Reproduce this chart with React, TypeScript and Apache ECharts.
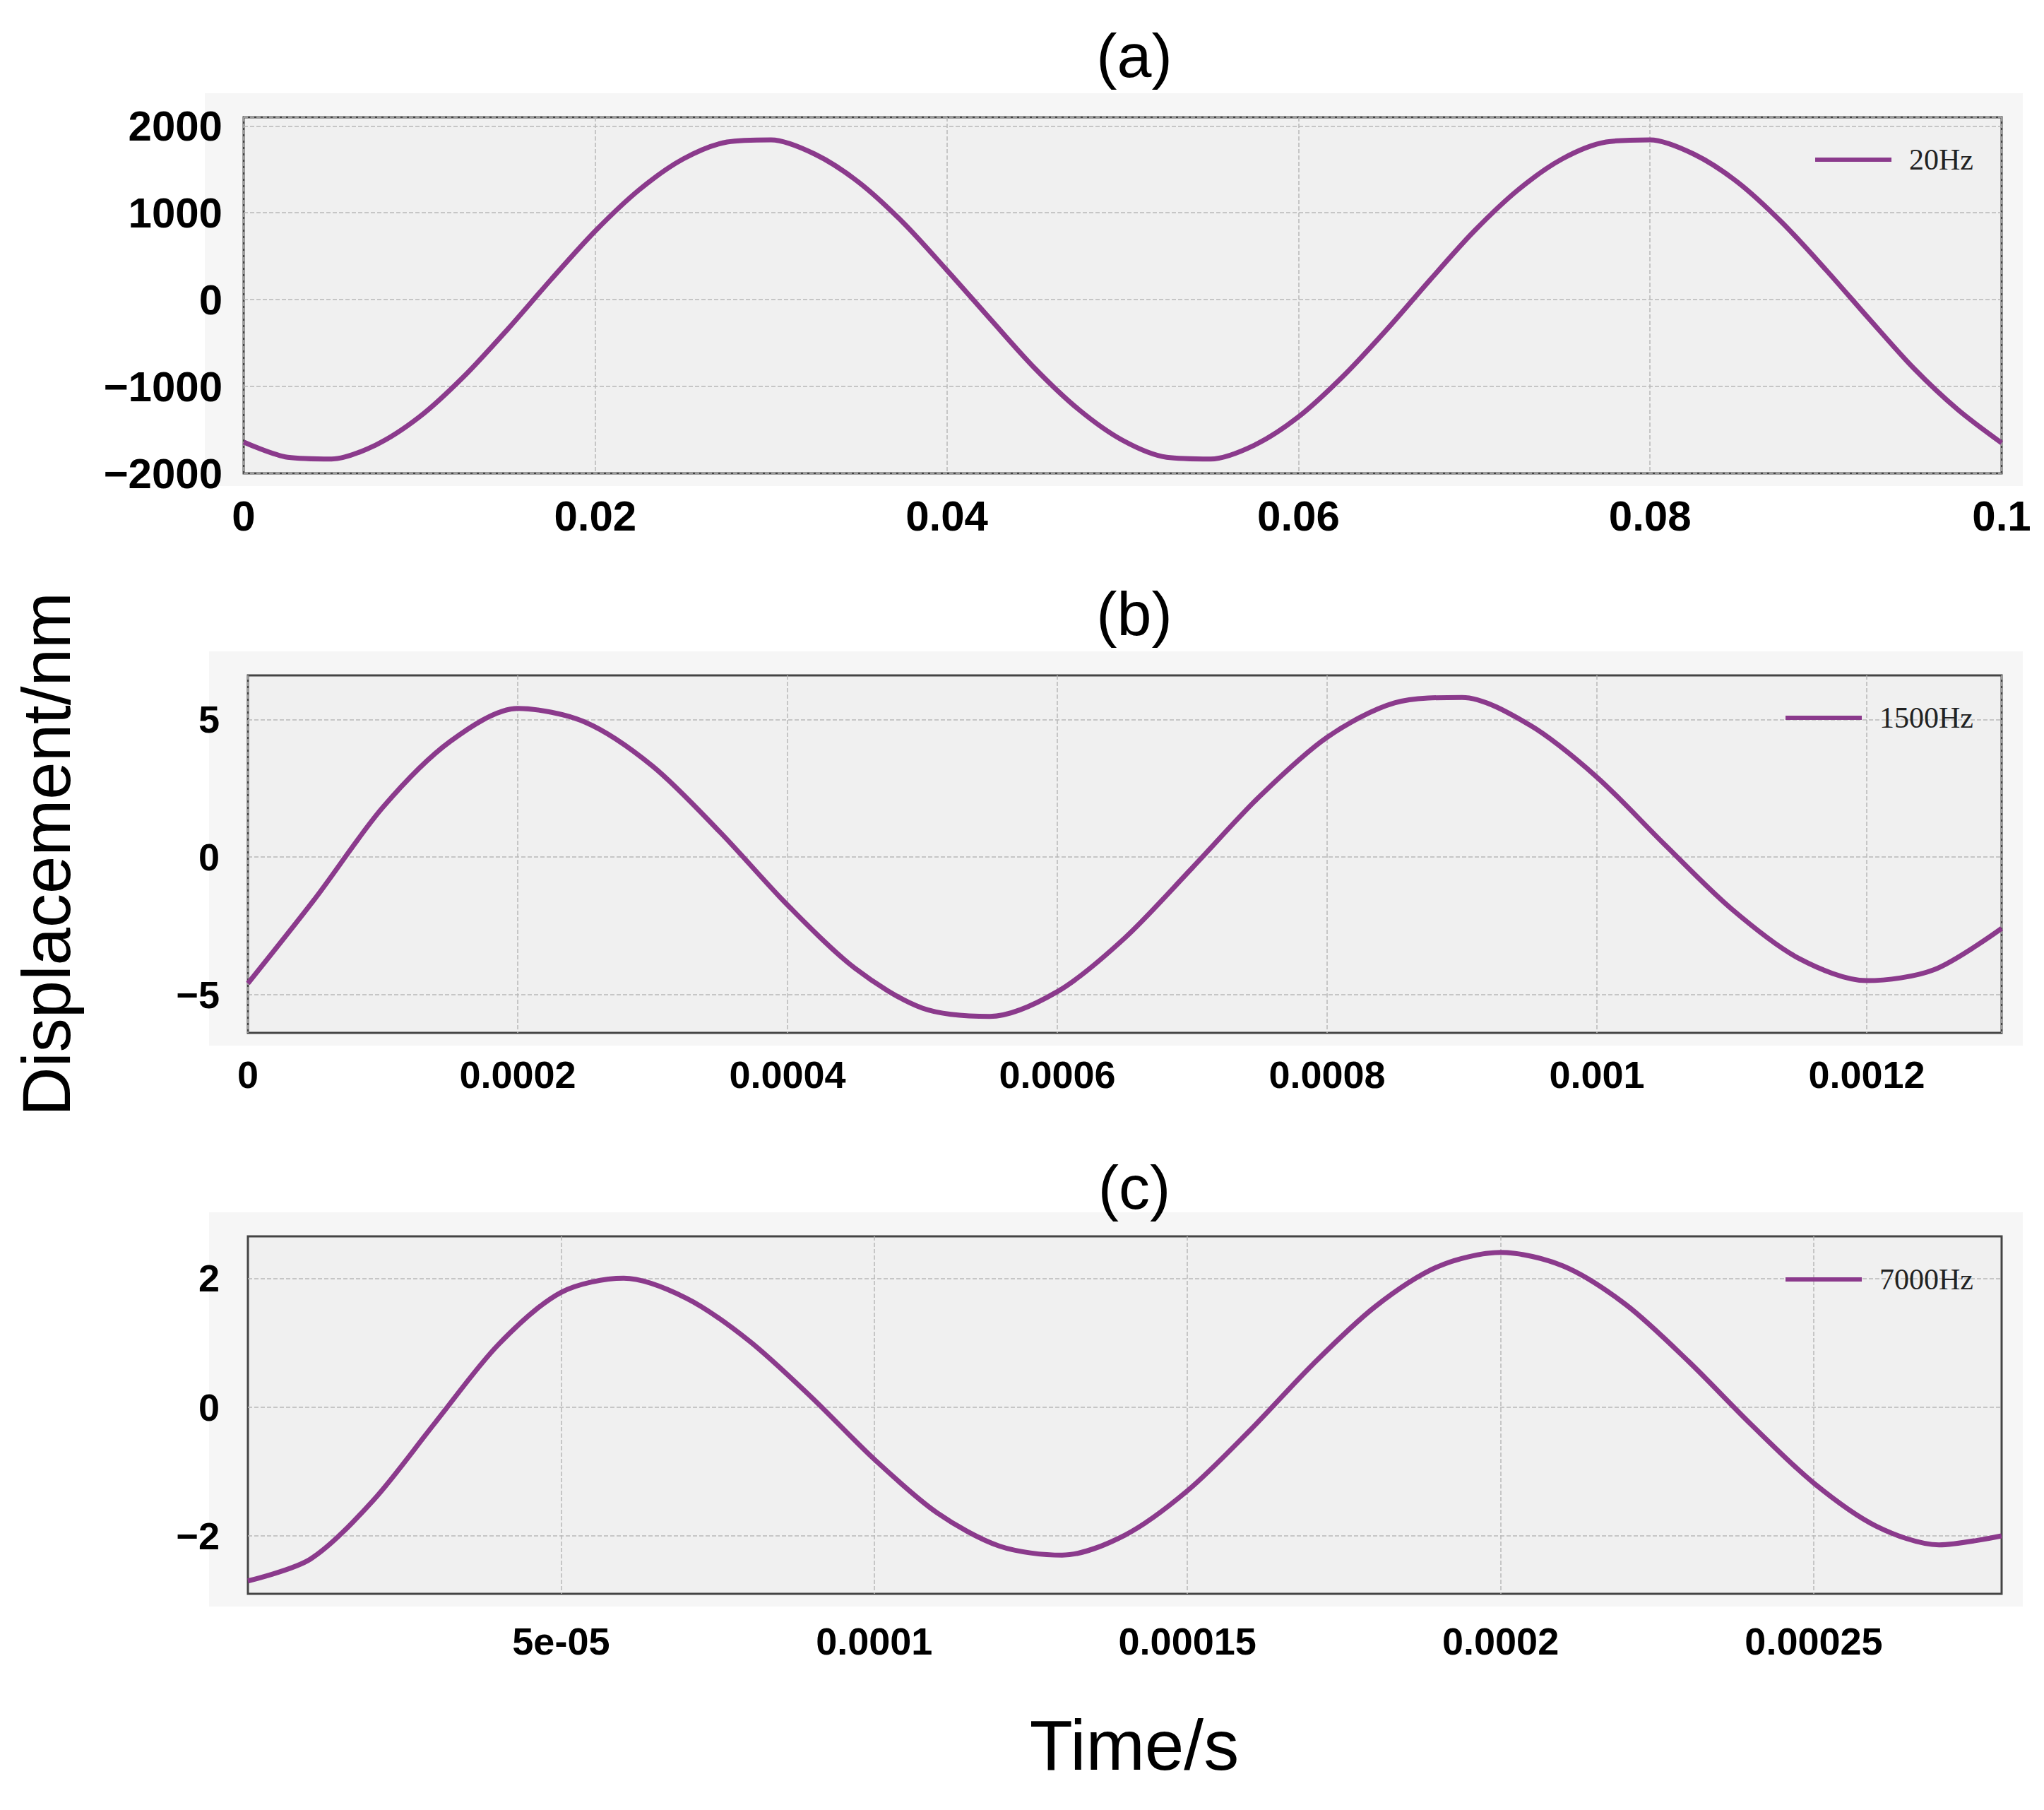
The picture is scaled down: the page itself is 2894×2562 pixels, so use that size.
import React, { useRef, useEffect } from 'react';
import * as echarts from 'echarts';

// (a) 20Hz
const timeA = [0, 0.0025, 0.005, 0.0075, 0.01, 0.0125, 0.015, 0.0175, 0.02, 0.0225, 0.025, 0.0275, 0.03, 0.0325, 0.035, 0.0375, 0.04, 0.0425, 0.045, 0.0475,
  0.05, 0.0525, 0.055, 0.0575, 0.06, 0.0625, 0.065, 0.0675, 0.07, 0.0725, 0.075, 0.0775, 0.08, 0.0825, 0.085, 0.0875, 0.09, 0.0925, 0.095, 0.0975, 0.1];
const dispA = [-1640, -1815, -1835, -1675, -1350, -890, -345, 235, 790, 1265, 1620, 1815, 1840, 1675, 1350, 890, 340, -230, -790, -1265,
  -1620, -1815, -1835, -1675, -1350, -890, -350, 230, 790, 1265, 1620, 1815, 1840, 1675, 1350, 890, 345, -230, -790, -1265, -1650];

// (b) 1500Hz
const timeB = [0, 0.00005, 0.0001, 0.00015, 0.0002, 0.00025, 0.0003, 0.00035, 0.0004, 0.00045, 0.0005, 0.00055, 0.0006, 0.00065, 0.0007, 0.00075, 0.0008, 0.00085, 0.0009, 0.00095, 0.001, 0.00105, 0.0011, 0.00115, 0.0012, 0.00125, 0.0013];
const dispB = [-4.6, -1.5, 1.8, 4.2, 5.4, 4.9, 3.3, 0.9, -1.75, -4.05, -5.5, -5.8, -4.9, -2.95, -0.4, 2.2, 4.35, 5.6, 5.8, 4.8, 2.9, 0.46, -1.9, -3.7, -4.5, -4.1, -2.6];

// (c) 7000Hz
const timeC = [0, 1e-5, 2e-5, 3e-5, 4e-5, 5e-5, 6e-5, 7e-5, 8e-5, 9e-5, 1e-4, 1.1e-4, 1.2e-4, 1.3e-4, 1.4e-4, 1.5e-4, 1.6e-4, 1.7e-4, 1.8e-4, 1.9e-4, 2e-4, 2.1e-4, 2.2e-4, 2.3e-4, 2.4e-4, 2.5e-4, 2.6e-4, 2.7e-4, 2.8e-4];
const dispC = [-2.7, -2.36, -1.45, -0.23, 0.97, 1.78, 2.0, 1.69, 1.03, 0.15, -0.81, -1.64, -2.16, -2.3, -1.99, -1.3, -0.36, 0.66, 1.56, 2.18, 2.4, 2.19, 1.59, 0.71, -0.27, -1.18, -1.85, -2.14, -2.0];

const panelTitles = ['(a)', '(b)', '(c)'];
const legendNames = ['20Hz', '1500Hz', '7000Hz'];
const yTicksB = [-5, 0, 5];
const yTicksC = [-2, 0, 2];
const xTicksC = [5e-5, 1e-4, 1.5e-4, 2e-4, 2.5e-4];

const LINE = '#8b3a8c';
const FONT = 'Liberation Sans, Arial, sans-serif';

const grids = [
  { left: 345, right: 60, top: 166, height: 504 },
  { left: 351, right: 60, top: 956, height: 506 },
  { left: 351, right: 60, top: 1750, height: 506 },
];

const App: React.FC = () => {
  const ref = useRef<HTMLDivElement>(null);

  useEffect(() => {
    document.body.style.margin = '0';
    if (!ref.current) return;
    const chart = echarts.init(ref.current, null, { renderer: 'svg' });

    const split = { show: true, lineStyle: { color: '#b8b8b8', type: 'dashed', width: 1.5 } };
    const frame = { show: false };
    const label = (size: number) => ({ color: '#000', fontFamily: FONT, fontWeight: 'bold', fontSize: size });
    const neg = (v: number) => (v < 0 ? '\u2212' + -v : String(v));

    const fmtC = (v: number) => {
      const m: Record<string, string> = { '0.00005': '5e-05', '0.0001': '0.0001', '0.00015': '0.00015', '0.0002': '0.0002', '0.00025': '0.00025' };
      return m[String(+v.toFixed(6))] ?? '';
    };

    const option = {
      animation: false,
      backgroundColor: '#fff',
      graphic: [
        ...grids.map(g => ({
          type: 'rect', z: -10,
          shape: { x: g.left - 55, y: g.top - 34, width: 2894 - g.left - g.right + 85, height: g.height + 52 },
          style: { fill: '#f6f6f6' },
        })),
        ...panelTitles.map((t, i) => ({
          type: 'text', x: 1606, y: [78, 868, 1680][i],
          style: { text: t, fontSize: 88, fontFamily: FONT, fill: '#000', align: 'center', verticalAlign: 'middle' },
        })),
        {
          type: 'text', x: 65, y: 1209, rotation: Math.PI / 2,
          style: { text: 'Displacement/nm', fontSize: 96, fontFamily: FONT, fill: '#000', align: 'center', verticalAlign: 'middle' },
        },
        {
          type: 'text', x: 1606, y: 2470,
          style: { text: 'Time/s', fontSize: 100, fontFamily: FONT, fill: '#000', align: 'center', verticalAlign: 'middle' },
        },
      ],
      grid: grids.map(g => ({ ...g, show: true, backgroundColor: '#f0f0f0', borderColor: '#444', borderWidth: 3 })),
      legend: legendNames.map((n, i) => ({
        data: [n], right: 95, top: [200, 990, 1785][i], orient: 'vertical',
        icon: 'rect', itemWidth: 108, itemHeight: 6, itemGap: 10,
        textStyle: { fontFamily: 'Liberation Serif, serif', fontSize: 42, color: '#222', padding: [0, 0, 0, 20] },
      })),
      xAxis: [
        {
          gridIndex: 0, type: 'value', min: 0, max: 0.1, interval: 0.02,
          axisLabel: { ...label(60), margin: 30, formatter: (v: number) => String(+v.toFixed(3)) },
          axisLine: frame, axisTick: { show: false }, splitLine: split,
        },
        {
          gridIndex: 1, type: 'value', min: 0, max: 0.0013, interval: 0.0002,
          axisLabel: { ...label(54), margin: 32, showMaxLabel: false, formatter: (v: number) => String(+v.toFixed(5)) },
          axisLine: frame, axisTick: { show: false }, splitLine: split,
        },
        {
          gridIndex: 2, type: 'value', min: 0, max: 0.00028,
          axisLabel: { ...label(54), margin: 40, customValues: xTicksC, formatter: fmtC },
          axisLine: frame, axisTick: { show: false, customValues: xTicksC }, splitLine: split,
        },
      ],
      yAxis: [
        {
          gridIndex: 0, type: 'value', min: -2000, max: 2100, interval: 1000,
          axisLabel: { ...label(60), margin: 30, showMaxLabel: false, formatter: neg },
          axisLine: frame, axisTick: { show: false }, splitLine: split,
        },
        {
          gridIndex: 1, type: 'value', min: -6.4, max: 6.6,
          axisLabel: { ...label(54), margin: 40, customValues: yTicksB, formatter: neg },
          axisLine: frame, axisTick: { show: false, customValues: yTicksB }, splitLine: split,
        },
        {
          gridIndex: 2, type: 'value', min: -2.9, max: 2.65,
          axisLabel: { ...label(54), margin: 40, customValues: yTicksC, formatter: neg },
          axisLine: frame, axisTick: { show: false, customValues: yTicksC }, splitLine: split,
        },
      ],
      series: [
        { t: timeA, d: dispA },
        { t: timeB, d: dispB },
        { t: timeC, d: dispC },
      ].map((s, i) => ({
        name: legendNames[i], type: 'line', xAxisIndex: i, yAxisIndex: i,
        data: s.t.map((t, k) => [t, s.d[k]]),
        smooth: 0.3, showSymbol: false, color: LINE,
        lineStyle: { color: LINE, width: 7 },
      })),
    };

    chart.setOption(option as any);
    return () => chart.dispose();
  }, []);

  return <div ref={ref} style={{ width: 2894, height: 2562 }} />;
};

export default App;
